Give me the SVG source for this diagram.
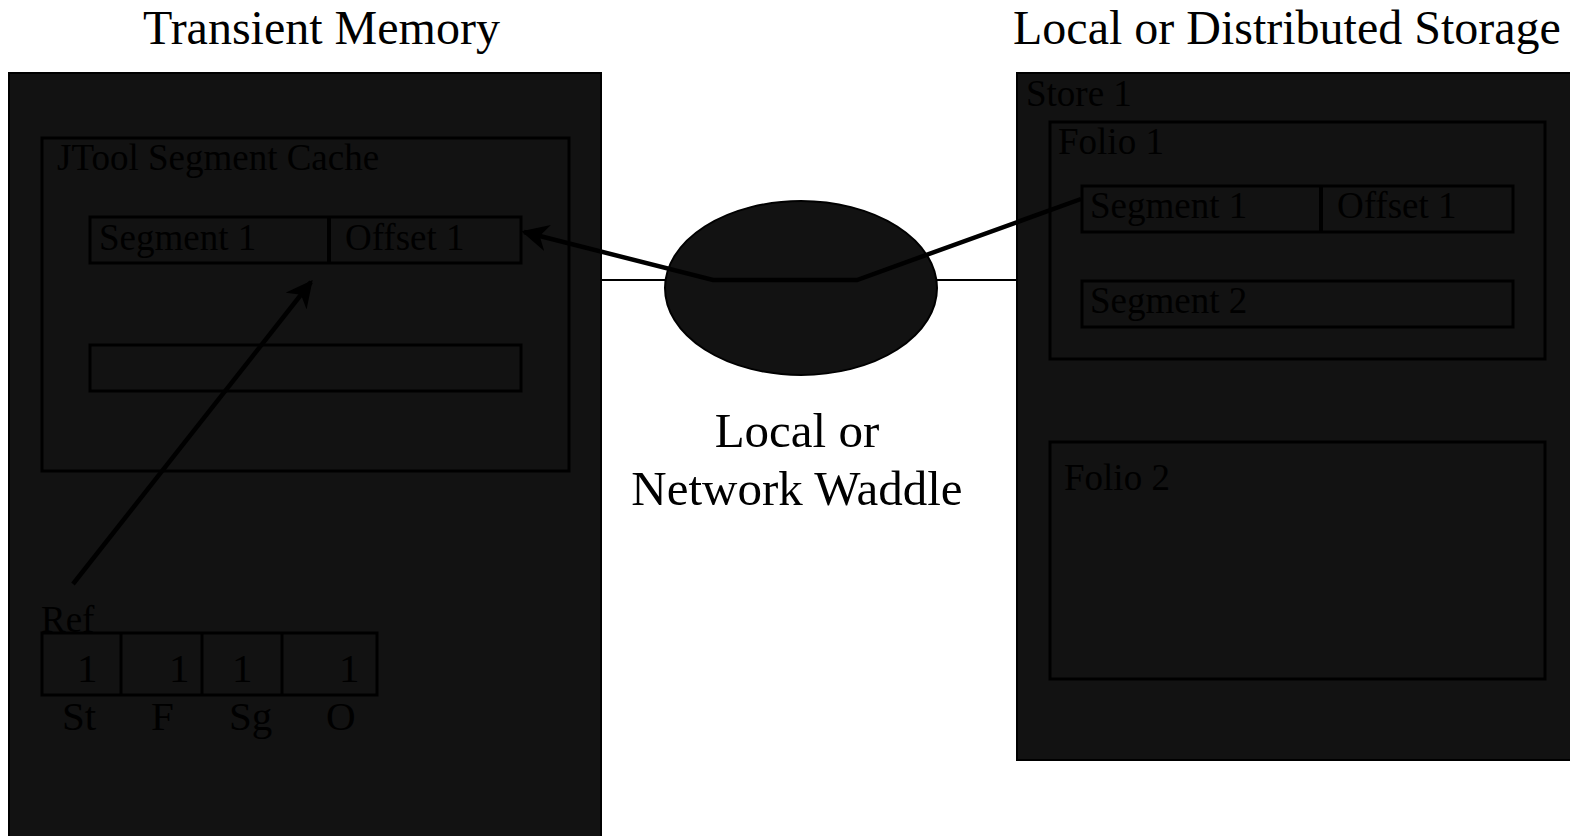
<svg xmlns="http://www.w3.org/2000/svg" width="1570" height="836" viewBox="0 0 1570 836">
<defs>
<style>
.t{font-family:"Liberation Serif","Times New Roman",serif;fill:#000}
.title{font-size:48px}
.wad{font-size:49px}
.lbl{font-size:37px}
.big{font-size:41px}
.box{fill:#121212;stroke:#000;stroke-width:2}
.inner{fill:#121212;stroke:#000;stroke-width:3}
.conn{fill:none;stroke:#000;stroke-width:4.5}
</style>
<marker id="ah" viewBox="0 0 10 10" refX="9" refY="5" markerWidth="6" markerHeight="6" markerUnits="strokeWidth" orient="auto">
<path d="M0,0 L10,5 L0,10 L3,5 Z" fill="#000"/>
</marker>
</defs>
<rect width="1570" height="836" fill="#fff"/>
<text class="t title" x="143" y="44">Transient Memory</text>
<text class="t title" x="1013" y="44">Local or Distributed Storage</text>
<g id="transient">
<rect class="box" x="9" y="73" width="592" height="780"/>
</g>
<g id="link-line">
<line x1="601" y1="280" x2="1017" y2="280" stroke="#000" stroke-width="2"/>
</g>
<g id="storage">
<rect class="box" x="1017" y="73" width="570" height="687"/>
<text class="t lbl" x="1026" y="106">Store 1</text>
</g>
<g id="cache">
<rect class="inner" x="42" y="138" width="527" height="333"/>
<text class="t lbl" x="57" y="170">JTool Segment Cache</text>
</g>
<g id="cache-seg1">
<rect class="inner" x="90" y="217" width="431" height="46"/>
<line x1="329" y1="217" x2="329" y2="263" stroke="#000" stroke-width="4"/>
<text class="t lbl" x="99" y="250">Segment 1</text>
<text class="t lbl" x="345" y="250">Offset 1</text>
</g>
<g id="cache-empty">
<rect class="inner" x="90" y="345" width="431" height="46"/>
</g>
<g id="ref">
<text class="t lbl" x="41" y="632">Ref</text>
<rect class="inner" x="42" y="633" width="335" height="62"/>
<line x1="121" y1="633" x2="121" y2="695" stroke="#000" stroke-width="3"/>
<line x1="202" y1="633" x2="202" y2="695" stroke="#000" stroke-width="3"/>
<line x1="282" y1="633" x2="282" y2="695" stroke="#000" stroke-width="3"/>
<text class="t big" x="77" y="682">1</text>
<text class="t big" x="169" y="682">1</text>
<text class="t big" x="232" y="682">1</text>
<text class="t big" x="339" y="682">1</text>
<text class="t big" x="62" y="730">St</text>
<text class="t big" x="151" y="730">F</text>
<text class="t big" x="229" y="730">Sg</text>
<text class="t big" x="326" y="730">O</text>
</g>
<g id="folio1">
<rect class="inner" x="1050" y="122" width="495" height="237"/>
<text class="t lbl" x="1058" y="154">Folio 1</text>
</g>
<g id="store-seg1">
<rect class="inner" x="1082" y="186" width="431" height="46"/>
<line x1="1321" y1="186" x2="1321" y2="232" stroke="#000" stroke-width="4"/>
<text class="t lbl" x="1090" y="218">Segment 1</text>
<text class="t lbl" x="1337" y="218">Offset 1</text>
</g>
<g id="store-seg2">
<rect class="inner" x="1082" y="281" width="431" height="46"/>
<text class="t lbl" x="1090" y="313">Segment 2</text>
</g>
<g id="folio2">
<rect class="inner" x="1050" y="442" width="495" height="237"/>
<text class="t lbl" x="1064" y="490">Folio 2</text>
</g>
<g id="waddle">
<ellipse cx="801" cy="288" rx="136" ry="87" fill="#121212" stroke="#000" stroke-width="2"/>
<text class="t wad" x="797" y="447" text-anchor="middle">Local or</text>
<text class="t wad" x="797" y="505" text-anchor="middle">Network Waddle</text>
</g>
<g id="connectors">
<polyline class="conn" points="1081,199 857,280 713,280 524,232" marker-end="url(#ah)"/>
<line class="conn" x1="73" y1="584" x2="311" y2="282" marker-end="url(#ah)"/>
</g>
</svg>
